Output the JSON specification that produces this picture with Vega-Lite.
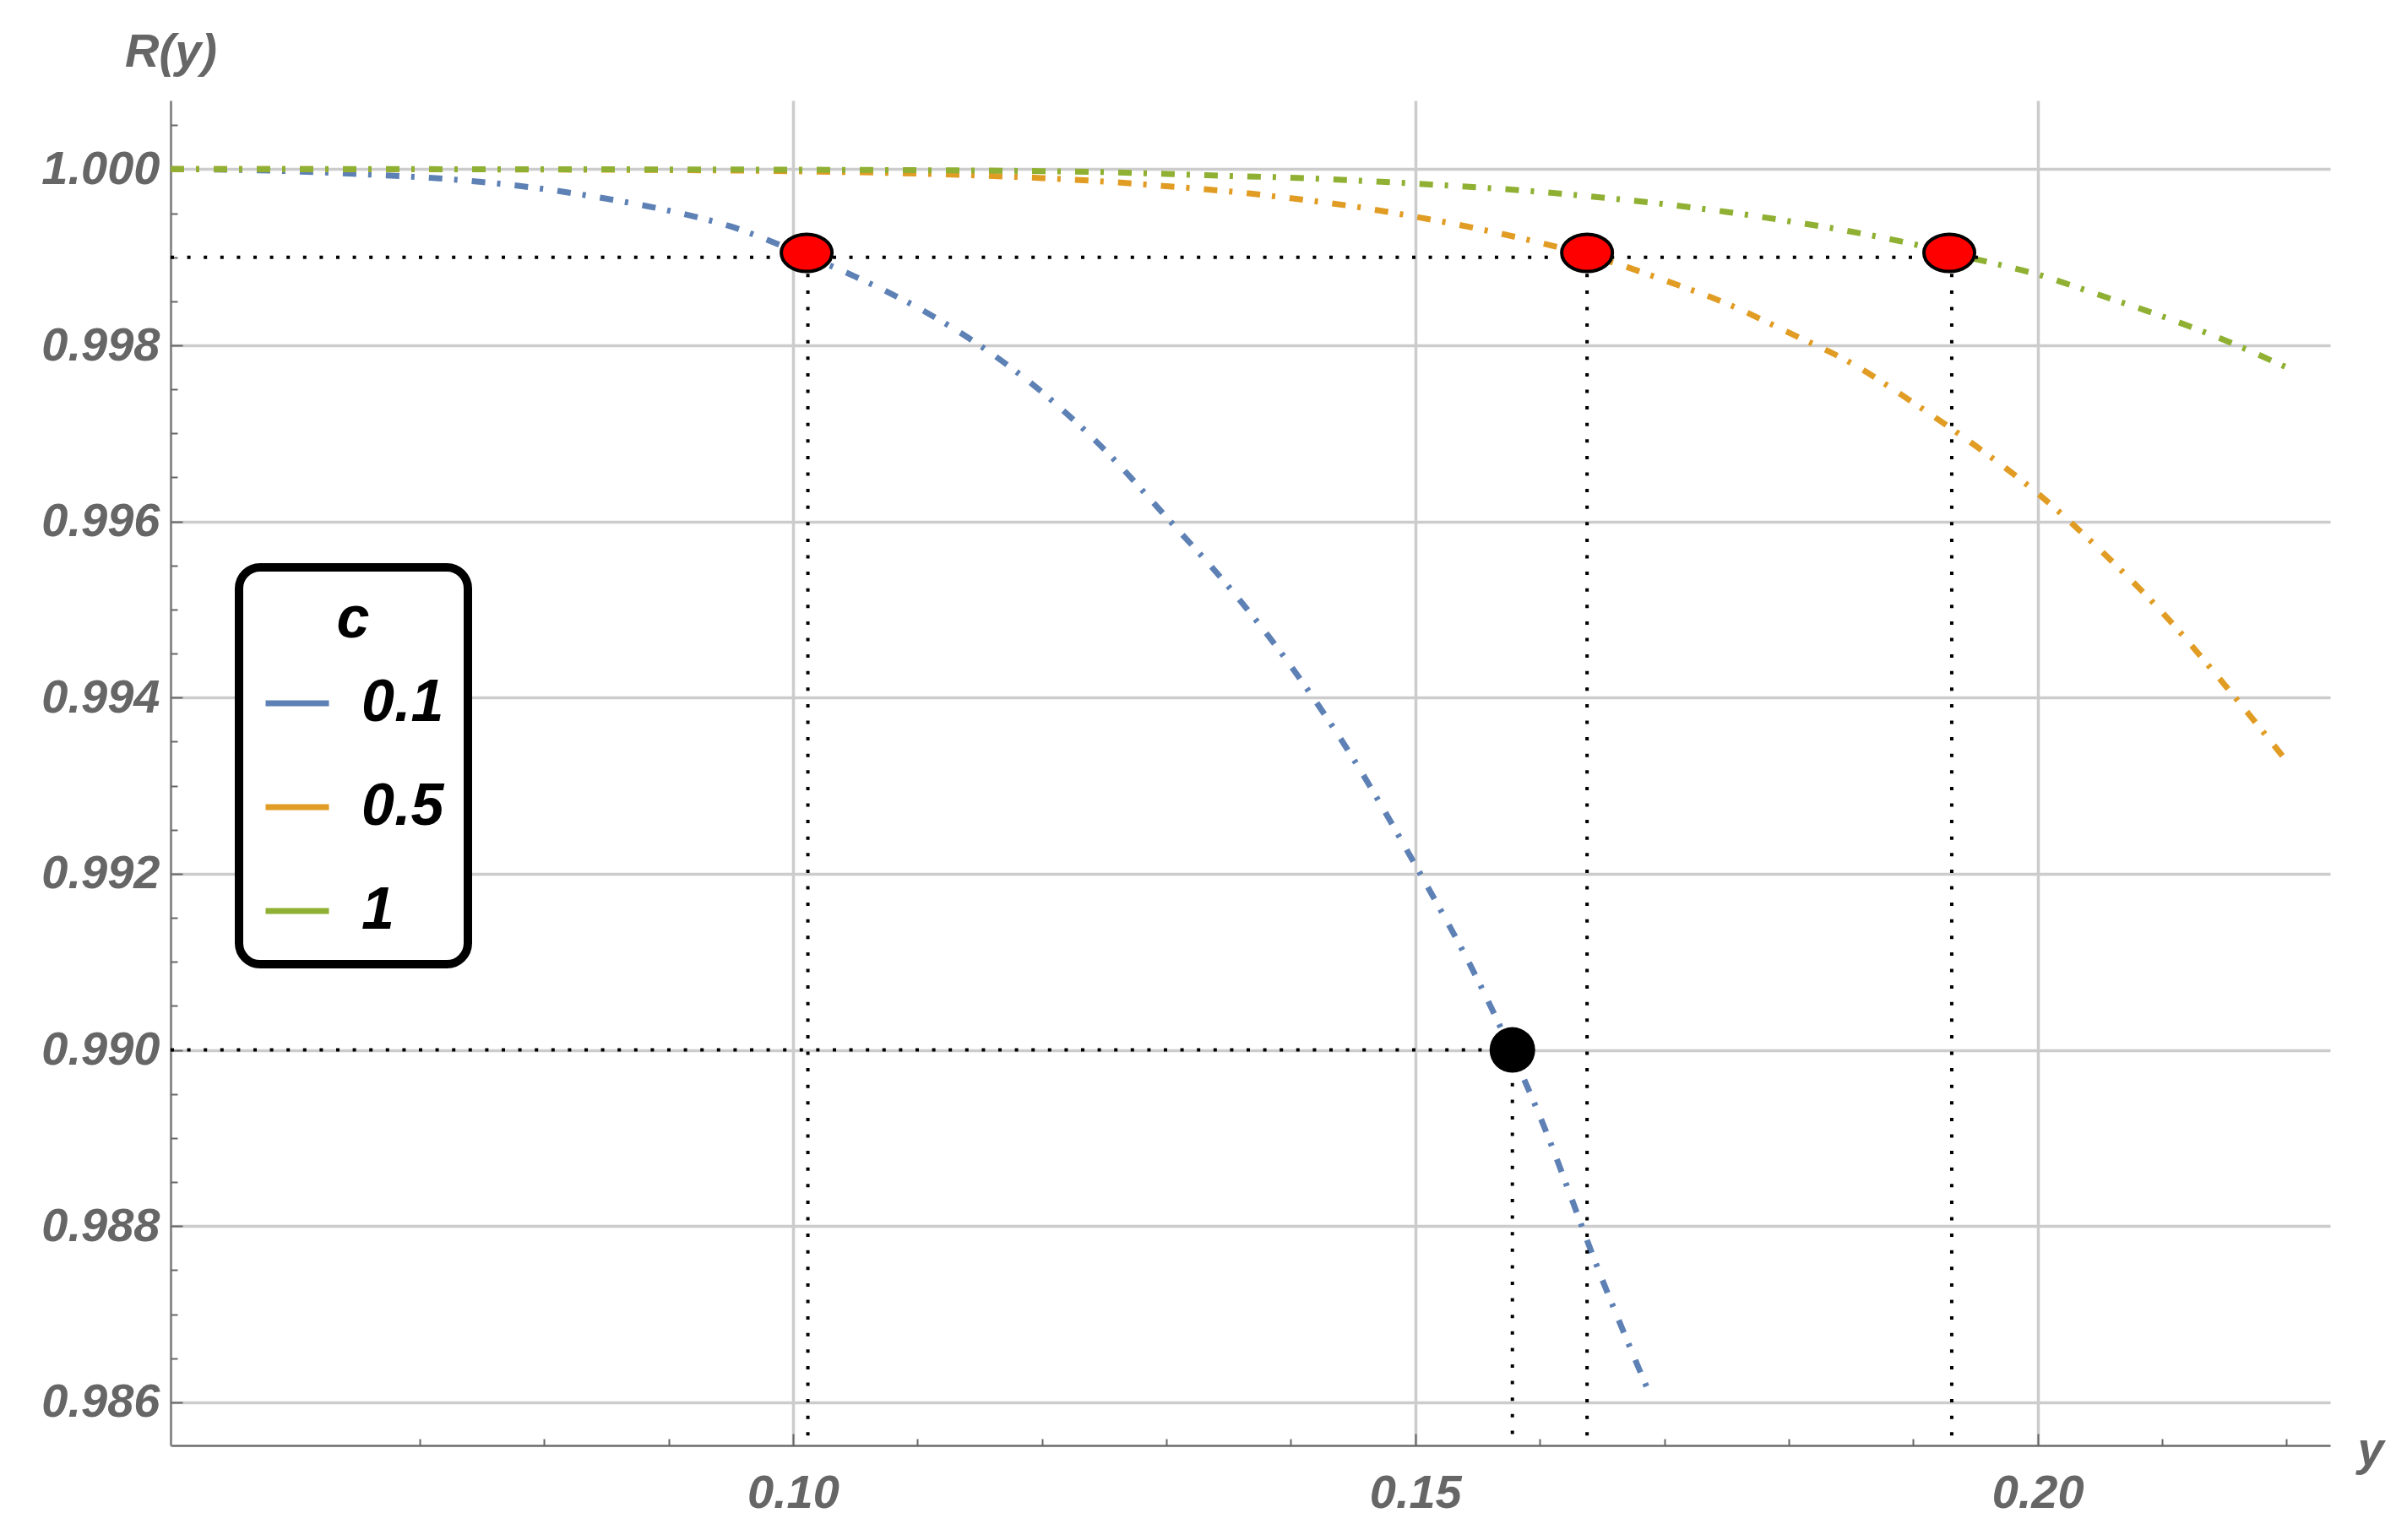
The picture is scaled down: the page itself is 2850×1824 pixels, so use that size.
{
  "$schema": "https://vega.github.io/schema/vega-lite/v6.json",
  "width": 2557,
  "height": 1593,
  "autosize": {"type": "none"},
  "padding": {"left": 202, "top": 119, "right": 91, "bottom": 112},
  "background": "white",
  "config": {"view": {"stroke": null}, "font": "Liberation Sans", "legend": {"strokeWidth": 10}},
  "datasets": {
    "curves": [
      {"c": "0.1", "y": 0.05, "R": 1.0},
      {"c": "0.1", "y": 0.055, "R": 0.999993},
      {"c": "0.1", "y": 0.06, "R": 0.999975},
      {"c": "0.1", "y": 0.065, "R": 0.999945},
      {"c": "0.1", "y": 0.07, "R": 0.99991},
      {"c": "0.1", "y": 0.075, "R": 0.999855},
      {"c": "0.1", "y": 0.08, "R": 0.999775},
      {"c": "0.1", "y": 0.085, "R": 0.999665},
      {"c": "0.1", "y": 0.09, "R": 0.99953},
      {"c": "0.1", "y": 0.095, "R": 0.99935},
      {"c": "0.1", "y": 0.1, "R": 0.99908},
      {"c": "0.1", "y": 0.105, "R": 0.99878},
      {"c": "0.1", "y": 0.11, "R": 0.99843},
      {"c": "0.1", "y": 0.115, "R": 0.998},
      {"c": "0.1", "y": 0.12, "R": 0.99747},
      {"c": "0.1", "y": 0.125, "R": 0.99682},
      {"c": "0.1", "y": 0.13, "R": 0.99605},
      {"c": "0.1", "y": 0.135, "R": 0.99526},
      {"c": "0.1", "y": 0.14, "R": 0.99436},
      {"c": "0.1", "y": 0.145, "R": 0.99331},
      {"c": "0.1", "y": 0.15, "R": 0.9921},
      {"c": "0.1", "y": 0.155, "R": 0.9908},
      {"c": "0.1", "y": 0.16, "R": 0.98925},
      {"c": "0.1", "y": 0.165, "R": 0.9874},
      {"c": "0.1", "y": 0.1689, "R": 0.98607},
      {"c": "0.5", "y": 0.05, "R": 1.0},
      {"c": "0.5", "y": 0.06, "R": 1.0},
      {"c": "0.5", "y": 0.07, "R": 0.999999},
      {"c": "0.5", "y": 0.08, "R": 0.999996},
      {"c": "0.5", "y": 0.09, "R": 0.99999},
      {"c": "0.5", "y": 0.1, "R": 0.999977},
      {"c": "0.5", "y": 0.105, "R": 0.999966},
      {"c": "0.5", "y": 0.11, "R": 0.99995},
      {"c": "0.5", "y": 0.115, "R": 0.999928},
      {"c": "0.5", "y": 0.12, "R": 0.999899},
      {"c": "0.5", "y": 0.125, "R": 0.99986},
      {"c": "0.5", "y": 0.13, "R": 0.999807},
      {"c": "0.5", "y": 0.135, "R": 0.999748},
      {"c": "0.5", "y": 0.14, "R": 0.99967},
      {"c": "0.5", "y": 0.145, "R": 0.999578},
      {"c": "0.5", "y": 0.15, "R": 0.99946},
      {"c": "0.5", "y": 0.155, "R": 0.999325},
      {"c": "0.5", "y": 0.16, "R": 0.999165},
      {"c": "0.5", "y": 0.165, "R": 0.99898},
      {"c": "0.5", "y": 0.17, "R": 0.99874},
      {"c": "0.5", "y": 0.175, "R": 0.998475},
      {"c": "0.5", "y": 0.18, "R": 0.998145},
      {"c": "0.5", "y": 0.185, "R": 0.9978},
      {"c": "0.5", "y": 0.19, "R": 0.99735},
      {"c": "0.5", "y": 0.195, "R": 0.99686},
      {"c": "0.5", "y": 0.2, "R": 0.99632},
      {"c": "0.5", "y": 0.205, "R": 0.99568},
      {"c": "0.5", "y": 0.21, "R": 0.99497},
      {"c": "0.5", "y": 0.215, "R": 0.99415},
      {"c": "0.5", "y": 0.22, "R": 0.99328},
      {"c": "1", "y": 0.05, "R": 1.0},
      {"c": "1", "y": 0.07, "R": 1.0},
      {"c": "1", "y": 0.08, "R": 0.999999},
      {"c": "1", "y": 0.09, "R": 0.999997},
      {"c": "1", "y": 0.1, "R": 0.999994},
      {"c": "1", "y": 0.11, "R": 0.999988},
      {"c": "1", "y": 0.115, "R": 0.999984},
      {"c": "1", "y": 0.12, "R": 0.999978},
      {"c": "1", "y": 0.125, "R": 0.999967},
      {"c": "1", "y": 0.13, "R": 0.999946},
      {"c": "1", "y": 0.135, "R": 0.999923},
      {"c": "1", "y": 0.14, "R": 0.999904},
      {"c": "1", "y": 0.145, "R": 0.999873},
      {"c": "1", "y": 0.15, "R": 0.999836},
      {"c": "1", "y": 0.155, "R": 0.999794},
      {"c": "1", "y": 0.16, "R": 0.999743},
      {"c": "1", "y": 0.165, "R": 0.999678},
      {"c": "1", "y": 0.17, "R": 0.999603},
      {"c": "1", "y": 0.175, "R": 0.999515},
      {"c": "1", "y": 0.18, "R": 0.99941},
      {"c": "1", "y": 0.185, "R": 0.999292},
      {"c": "1", "y": 0.19, "R": 0.99915},
      {"c": "1", "y": 0.195, "R": 0.99898},
      {"c": "1", "y": 0.2, "R": 0.998805},
      {"c": "1", "y": 0.205, "R": 0.99857},
      {"c": "1", "y": 0.21, "R": 0.99833},
      {"c": "1", "y": 0.215, "R": 0.99806},
      {"c": "1", "y": 0.22, "R": 0.99775}
    ],
    "refs": [
      {"x": 0.05, "x2": 0.1952, "r": 0.999, "r2": 0.999},
      {"x": 0.1012, "x2": 0.1012, "r": 0.999, "r2": 0.98551},
      {"x": 0.1638, "x2": 0.1638, "r": 0.999, "r2": 0.98551},
      {"x": 0.1931, "x2": 0.1931, "r": 0.999, "r2": 0.98551},
      {"x": 0.05, "x2": 0.1578, "r": 0.99, "r2": 0.99},
      {"x": 0.1578, "x2": 0.1578, "r": 0.99, "r2": 0.98551}
    ],
    "red": [
      {"y": 0.1011, "R": 0.99905},
      {"y": 0.1638, "R": 0.99905},
      {"y": 0.1929, "R": 0.99905}
    ],
    "black": [
      {"y": 0.1578, "R": 0.99}
    ]
  },
  "resolve": {"axis": {"x": "independent", "y": "independent"}},
  "layer": [
    {
      "data": {"name": "curves"},
      "mark": {"type": "line", "strokeWidth": 7, "strokeDash": [16, 14, 4, 17], "strokeCap": "butt", "interpolate": "monotone"},
      "encoding": {
        "x": {
          "field": "y", "type": "quantitative",
          "scale": {"domain": [0.05, 0.2235], "nice": false, "zero": false},
          "axis": {
            "orient": "bottom", "values": [0.1, 0.15, 0.2], "format": ".2f",
            "grid": true, "gridColor": "#cccccc", "gridWidth": 3.5,
            "ticks": false, "domain": true, "domainColor": "#6b6b6b", "domainWidth": 2.5,
            "labelFont": "Liberation Sans", "labelFontStyle": "italic", "labelFontWeight": "bold",
            "labelFontSize": 56, "labelColor": "#666666", "labelPadding": 29, "labelBaseline": "top",
            "title": "y", "titleFont": "Liberation Sans", "titleFontStyle": "italic", "titleFontWeight": "bold",
            "titleFontSize": 56, "titleColor": "#666666", "titleAngle": 0, "titleX": 2589, "titleY": 22,
            "titleAlign": "left", "titleBaseline": "alphabetic", "zindex": 0
          }
        },
        "y": {
          "field": "R", "type": "quantitative",
          "scale": {"domain": [0.98551, 1.00078], "nice": false, "zero": false},
          "axis": {
            "orient": "left", "values": [0.986, 0.988, 0.99, 0.992, 0.994, 0.996, 0.998, 1.0], "format": ".3f",
            "grid": true, "gridColor": "#cccccc", "gridWidth": 3.5,
            "ticks": false, "domain": true, "domainColor": "#8c8c8c", "domainWidth": 3,
            "labelFont": "Liberation Sans", "labelFontStyle": "italic", "labelFontWeight": "bold",
            "labelFontSize": 56, "labelColor": "#666666", "labelPadding": 13,
            "title": "R(y)", "titleFont": "Liberation Sans", "titleFontStyle": "italic", "titleFontWeight": "bold",
            "titleFontSize": 56, "titleColor": "#666666", "titleAngle": 0, "titleX": 0, "titleY": -41,
            "titleAlign": "center", "titleBaseline": "alphabetic", "zindex": 0
          }
        },
        "color": {
          "field": "c", "type": "nominal",
          "scale": {"domain": ["0.1", "0.5", "1"], "range": ["#5e81b5", "#e19c24", "#8fb032"]},
          "legend": {
            "orient": "none", "legendX": 81, "legendY": 553, "direction": "vertical",
            "padding": 28, "strokeColor": "black", "cornerRadius": 25, "fillColor": "white",
            "title": "c", "titleFont": "Liberation Sans", "titleFontStyle": "italic", "titleFontWeight": "bold",
            "titleFontSize": 70, "titleColor": "black", "titleAnchor": "middle", "titlePadding": 22,
            "labelFont": "Liberation Sans", "labelFontStyle": "italic", "labelFontWeight": "bold",
            "labelFontSize": 70, "labelColor": "black", "labelOffset": 35, "labelLimit": 0,
            "symbolType": "stroke", "symbolSize": 5625, "symbolStrokeWidth": 7, "symbolDash": [],
            "rowPadding": 47
          }
        }
      }
    },
    {
      "data": {"name": "refs"},
      "mark": {"type": "rule", "color": "black", "strokeWidth": 4, "strokeDash": [4, 15.6]},
      "encoding": {
        "x": {
          "field": "x", "type": "quantitative",
          "scale": {"domain": [0.05, 0.2235], "nice": false, "zero": false},
          "axis": {"orient": "bottom", "values": [0.1, 0.15, 0.2], "labels": false, "grid": false, "domain": false,
                   "ticks": true, "tickSize": -14, "tickColor": "#666666", "tickWidth": 2, "title": null}
        },
        "x2": {"field": "x2"},
        "y": {
          "field": "r", "type": "quantitative",
          "scale": {"domain": [0.98551, 1.00078], "nice": false, "zero": false},
          "axis": {"orient": "left", "values": [0.986, 0.988, 0.99, 0.992, 0.994, 0.996, 0.998, 1.0], "labels": false,
                   "grid": false, "domain": false, "ticks": true, "tickSize": -14, "tickColor": "#666666", "tickWidth": 2, "title": null}
        },
        "y2": {"field": "r2"}
      }
    },
    {
      "data": {"name": "red"},
      "mark": {"type": "point", "shape": "M 1 0 C 1 0.405 0.552 0.733 0 0.733 C -0.552 0.733 -1 0.405 -1 0 C -1 -0.405 -0.552 -0.733 0 -0.733 C 0.552 -0.733 1 -0.405 1 0 Z",
               "size": 3600, "filled": true, "fill": "#ff0000", "stroke": "black", "strokeWidth": 4, "opacity": 1},
      "encoding": {
        "x": {
          "field": "y", "type": "quantitative",
          "scale": {"domain": [0.05, 0.2235], "nice": false, "zero": false},
          "axis": {"orient": "bottom", "values": [0.07, 0.08, 0.09, 0.11, 0.12, 0.13, 0.14, 0.16, 0.17, 0.18, 0.19, 0.21, 0.22],
                   "labels": false, "grid": false, "domain": false, "ticks": true, "tickSize": -8, "tickColor": "#666666", "tickWidth": 2, "title": null}
        },
        "y": {
          "field": "R", "type": "quantitative",
          "scale": {"domain": [0.98551, 1.00078], "nice": false, "zero": false},
          "axis": {"orient": "left",
                   "values": [0.9865, 0.987, 0.9875, 0.9885, 0.989, 0.9895, 0.9905, 0.991, 0.9915, 0.9925, 0.993, 0.9935, 0.9945, 0.995, 0.9955, 0.9965, 0.997, 0.9975, 0.9985, 0.999, 0.9995, 1.0005],
                   "labels": false, "grid": false, "domain": false, "ticks": true, "tickSize": -8, "tickColor": "#666666", "tickWidth": 2, "title": null}
        }
      }
    },
    {
      "data": {"name": "black"},
      "mark": {"type": "point", "shape": "circle", "size": 2916, "filled": true, "color": "black", "opacity": 1},
      "encoding": {
        "x": {"field": "y", "type": "quantitative", "scale": {"domain": [0.05, 0.2235], "nice": false, "zero": false}, "axis": null},
        "y": {"field": "R", "type": "quantitative", "scale": {"domain": [0.98551, 1.00078], "nice": false, "zero": false}, "axis": null}
      }
    }
  ]
}
